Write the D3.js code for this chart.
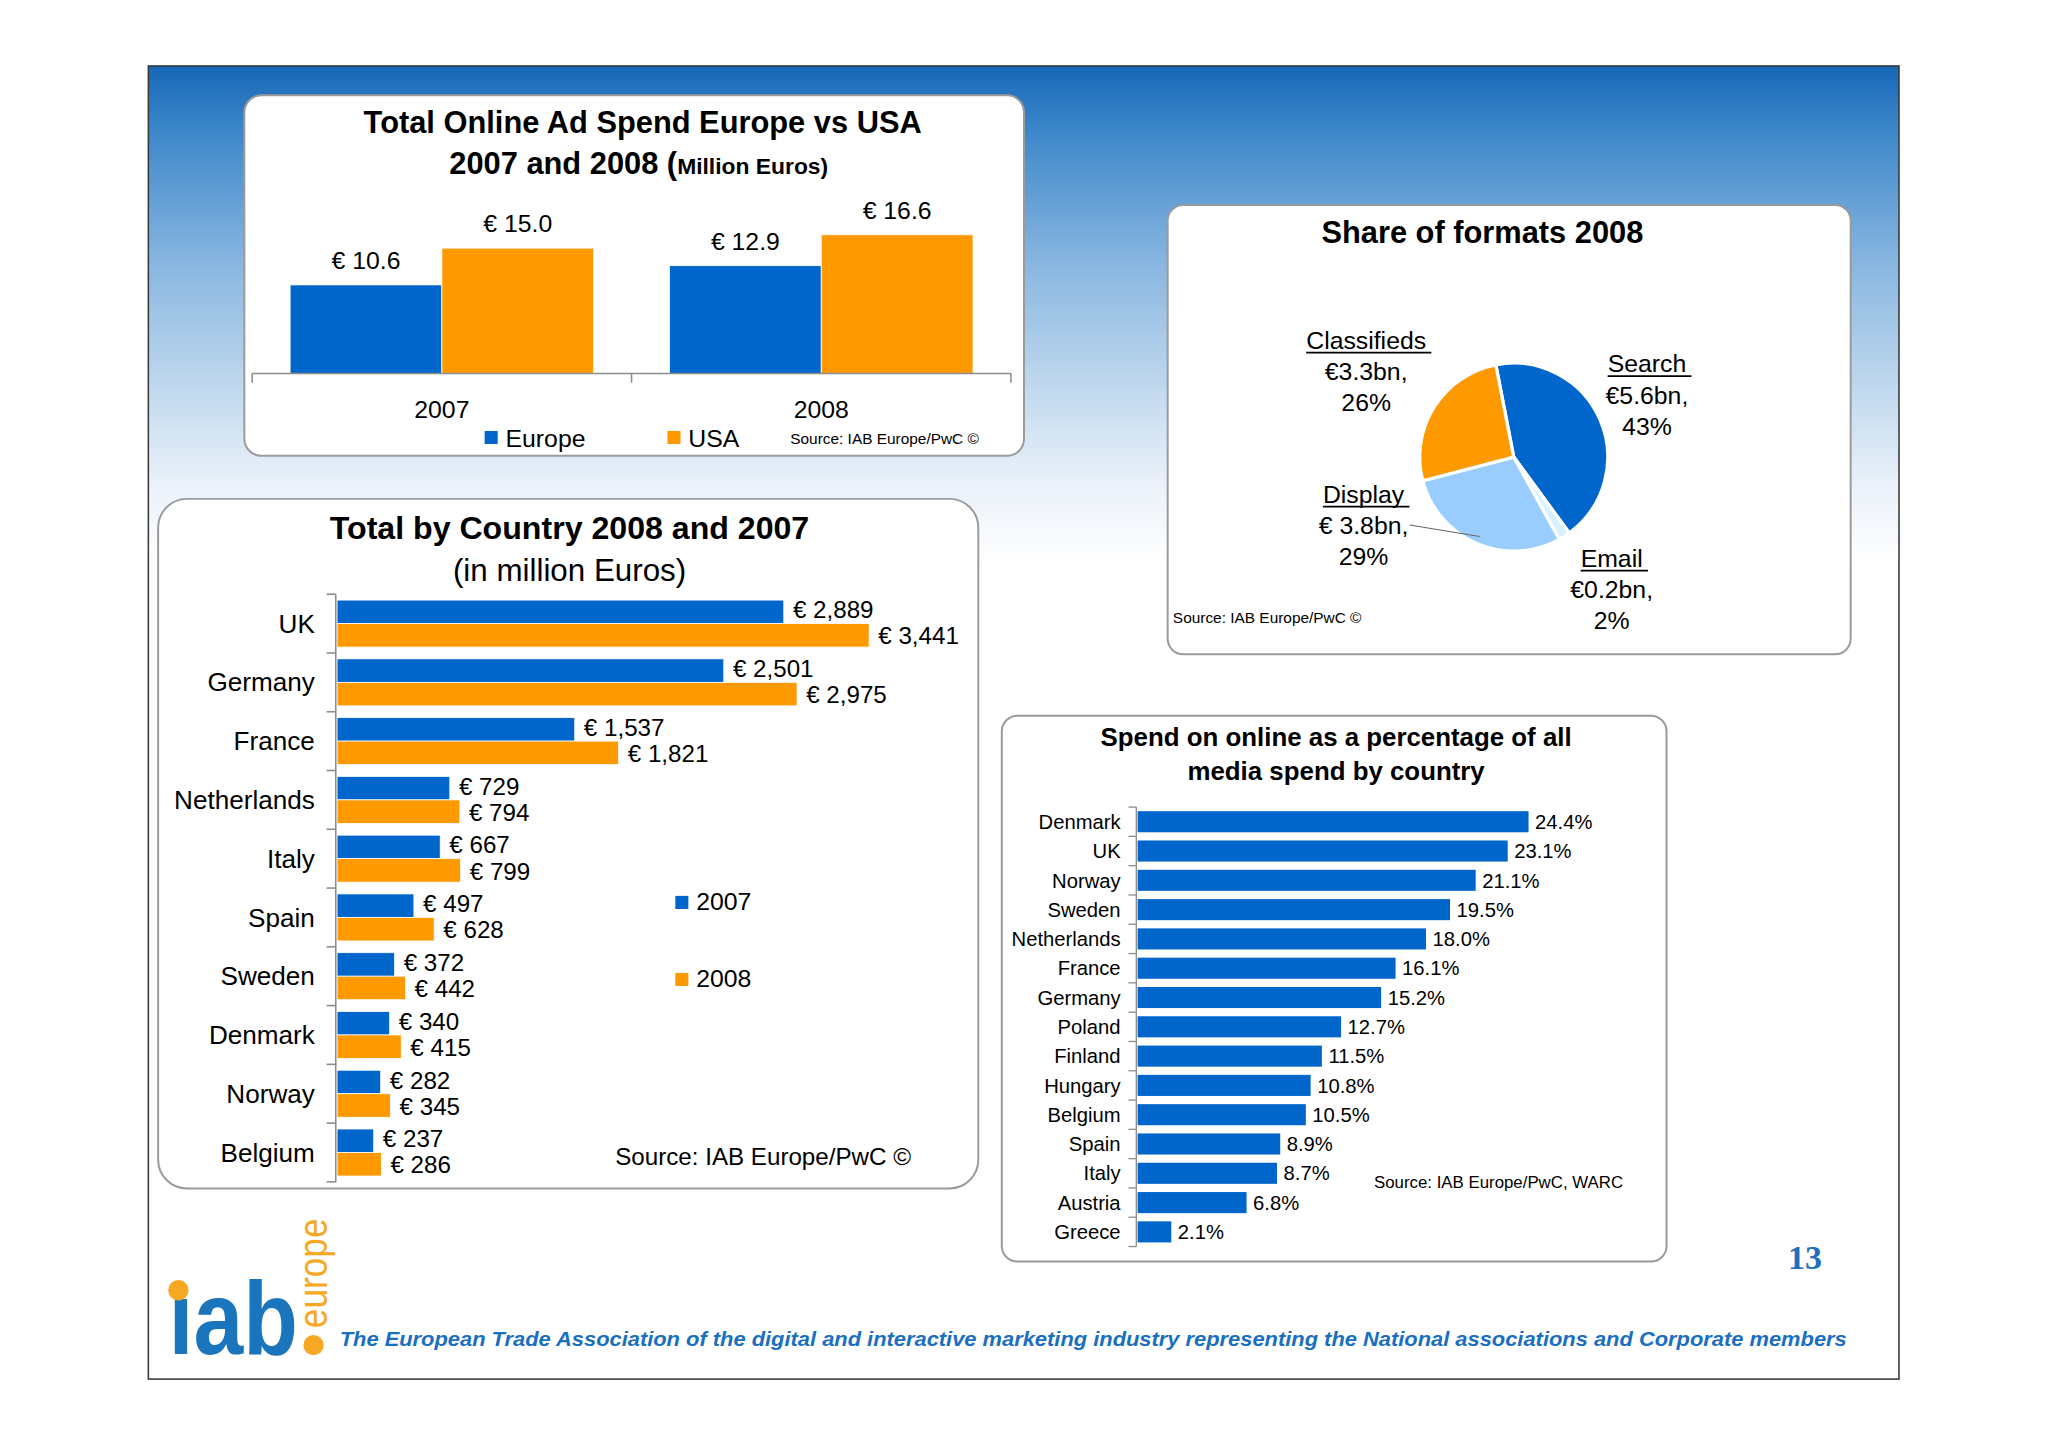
<!DOCTYPE html>
<html>
<head>
<meta charset="utf-8">
<script src="https://cdnjs.cloudflare.com/ajax/libs/d3/7.8.5/d3.min.js"></script>
<style>
  html, body { margin: 0; padding: 0; background: #fff; }
  svg { display: block; font-family: 'Liberation Sans', Arial, sans-serif; }
</style>
</head>
<body>
<svg id="slide" width="2048" height="1447" viewBox="0 0 1568 1108"></svg>
<script>
// chart 1: total online ad spend (billion euros)
var adYears = ['2007', '2008'];
var adSeries = ['Europe', 'USA'];
var adEurope = [10.6, 12.9];
var adUSA = [15.0, 16.6];

// chart 2: share of formats 2008
var formatNames = ['Search', 'Email', 'Display', 'Classifieds'];
var formatShare = [43, 2, 29, 26];
var formatValue = ['\u20ac5.6bn,', '\u20ac0.2bn,', '\u20ac 3.8bn,', '\u20ac3.3bn,'];

// chart 3: total by country (million euros)
var countries = ['UK', 'Germany', 'France', 'Netherlands', 'Italy', 'Spain', 'Sweden', 'Denmark', 'Norway', 'Belgium'];
var spend2007 = [2889, 2501, 1537, 729, 667, 497, 372, 340, 282, 237];
var spend2008 = [3441, 2975, 1821, 794, 799, 628, 442, 415, 345, 286];

// chart 4: online share of all media spend (%)
var shareCountries = ['Denmark', 'UK', 'Norway', 'Sweden', 'Netherlands', 'France', 'Germany', 'Poland',
  'Finland', 'Hungary', 'Belgium', 'Spain', 'Italy', 'Austria', 'Greece'];
var sharePct = [24.4, 23.1, 21.1, 19.5, 18.0, 16.1, 15.2, 12.7, 11.5, 10.8, 10.5, 8.9, 8.7, 6.8, 2.1];

var BLUE = '#0066cc';
var ORANGE = '#ff9900';
var LIGHT = '#99ccff';
var PALE = '#d6f1ff';
var AXIS = '#8c8c8c';

var svg = d3.select('#slide');

// background gradient
var defs = svg.append('defs');
var grad = defs.append('linearGradient')
  .attr('id', 'bg')
  .attr('x1', 0).attr('y1', 0).attr('x2', 0).attr('y2', 1);
[[0, '#1767b8'], [0.05, '#3d88ca'], [0.15, '#88b6e0'], [0.25, '#c3daef'], [0.32, '#ebf2fa'], [0.38, '#ffffff'], [1, '#ffffff']]
  .forEach(function(s) {
    grad.append('stop').attr('offset', s[0]).attr('stop-color', s[1]);
  });

svg.append('rect')
  .attr('x', 113.5).attr('y', 50.5)
  .attr('width', 1340.5).attr('height', 1005.5)
  .attr('fill', 'url(#bg)')
  .attr('stroke', '#3a3a3a')
  .attr('stroke-width', 1.2);

function panel(x, y, w, h, r) {
  svg.append('rect')
    .attr('x', x).attr('y', y)
    .attr('width', w).attr('height', h)
    .attr('rx', r).attr('ry', r)
    .attr('fill', '#fff')
    .attr('stroke', '#9a9a9a')
    .attr('stroke-width', 1.5);
}

function label(g, x, y, txt, size, opts) {
  opts = opts || {};
  return g.append('text')
    .attr('x', x).attr('y', y)
    .attr('font-size', size)
    .attr('font-weight', opts.bold ? 'bold' : null)
    .attr('text-anchor', opts.anchor || 'start')
    .attr('fill', opts.fill || '#000')
    .text(txt);
}

// ---------- chart 1 ----------
panel(187, 73, 597, 276, 13);
var g1 = svg.append('g');
label(g1, 492, 102, 'Total Online Ad Spend Europe vs USA', 23.6, {bold: true, anchor: 'middle'});
var t2 = label(g1, 489, 133, '2007 and 2008 (', 23.6, {bold: true, anchor: 'middle'});
t2.append('tspan').attr('font-size', 17.5).text('Million Euros)');

var x1 = d3.scaleBand().domain(adYears).range([193, 774]).paddingInner(0.2).paddingOuter(0.1);
var x1s = d3.scaleBand().domain(adSeries).range([0, x1.bandwidth()]);
var y1 = d3.scaleLinear().domain([0, 20]).range([286, 158]);

var adRows = adYears.map(function(yr, i) {
  return {year: yr, values: [{series: 'Europe', v: adEurope[i]}, {series: 'USA', v: adUSA[i]}]};
});

var groups1 = g1.selectAll('g.year').data(adRows).enter()
  .append('g').attr('class', 'year')
  .attr('transform', function(d) { return 'translate(' + x1(d.year) + ',0)'; });
groups1.selectAll('rect').data(function(d) { return d.values; }).enter()
  .append('rect')
  .attr('x', function(d) { return x1s(d.series); })
  .attr('width', x1s.bandwidth())
  .attr('y', function(d) { return y1(d.v); })
  .attr('height', function(d) { return y1(0) - y1(d.v); })
  .attr('fill', function(d) { return d.series === 'Europe' ? BLUE : ORANGE; })
  .attr('stroke', '#fff').attr('stroke-width', 0.6);
groups1.selectAll('text').data(function(d) { return d.values; }).enter()
  .append('text')
  .attr('x', function(d) { return x1s(d.series) + x1s.bandwidth() / 2; })
  .attr('y', function(d) { return y1(d.v) - 12; })
  .attr('text-anchor', 'middle')
  .attr('font-size', 19)
  .text(function(d) { return '\u20ac ' + d3.format('.1f')(d.v); });

// category axis with boundary ticks
var step1 = x1.step();
g1.append('line').attr('x1', 193).attr('x2', 774).attr('y1', y1(0)).attr('y2', y1(0))
  .attr('stroke', AXIS).attr('stroke-width', 1.2);
[0, 1, 2].forEach(function(i) {
  var xx = 193 + i * step1;
  g1.append('line').attr('x1', xx).attr('x2', xx).attr('y1', y1(0)).attr('y2', y1(0) + 7)
    .attr('stroke', AXIS).attr('stroke-width', 1.2);
});
adYears.forEach(function(yr) {
  label(g1, x1(yr) + x1.bandwidth() / 2, 320, yr, 19, {anchor: 'middle'});
});

// legend
adSeries.forEach(function(s, i) {
  var lx = 371 + i * 140;
  g1.append('rect').attr('x', lx).attr('y', 330).attr('width', 10).attr('height', 10)
    .attr('fill', i === 0 ? BLUE : ORANGE);
  label(g1, lx + 16, 342, s, 19);
});
label(g1, 605, 340, 'Source: IAB Europe/PwC \u00a9', 11.8);

// ---------- chart 2: pie ----------
panel(894, 157, 523, 344, 12);
var g2 = svg.append('g');
label(g2, 1135, 186, 'Share of formats 2008', 23.6, {bold: true, anchor: 'middle'});

var cx = 1159, cy = 350, R = 72;
var pieColors = [BLUE, PALE, LIGHT, ORANGE];
var start = -11 * Math.PI / 180;
var pie = d3.pie().sort(null).startAngle(start).endAngle(start + 2 * Math.PI);
var arcs = pie(formatShare);
var arc = d3.arc().innerRadius(0).outerRadius(R);
var pg = g2.append('g').attr('transform', 'translate(' + cx + ',' + cy + ')');
pg.selectAll('path').data(arcs).enter()
  .append('path')
  .attr('d', arc)
  .attr('fill', function(d, i) { return pieColors[i]; })
  .attr('stroke', '#fff')
  .attr('stroke-width', 2.5);

// label offsets from pie centre (middle line of each label)
var pieLabelAt = [[102, -48], [75, 101], [-115, 52], [-113, -66]];
arcs.forEach(function(a, i) {
  var lx = pieLabelAt[i][0], ly = pieLabelAt[i][1];
  var nm = label(pg, lx, ly - 17, formatNames[i], 19, {anchor: 'middle'});
  var w = nm.node().getComputedTextLength();
  pg.append('line')
    .attr('x1', lx - w / 2).attr('x2', lx + w / 2 + 4)
    .attr('y1', ly - 14).attr('y2', ly - 14)
    .attr('stroke', '#000').attr('stroke-width', 1.3);
  var val = label(pg, lx, ly + 7, formatValue[i], 19, {anchor: 'middle'});
  label(pg, lx, ly + 31, formatShare[i] + '%', 19, {anchor: 'middle'});
  if (formatNames[i] === 'Display') {
    var vw = val.node().getComputedTextLength();
    var c = d3.arc().innerRadius(R * 0.92).outerRadius(R * 0.92).centroid(a);
    pg.append('line')
      .attr('x1', lx + vw / 2 + 1).attr('y1', ly)
      .attr('x2', c[0]).attr('y2', c[1])
      .attr('stroke', '#666').attr('stroke-width', 0.8);
  }
});
label(g2, 898, 477, 'Source: IAB Europe/PwC \u00a9', 11.8);

// ---------- chart 3: by country ----------
panel(121, 382, 628, 528, 22);
var g3 = svg.append('g');
label(g3, 436, 413, 'Total by Country 2008 and 2007', 24.6, {bold: true, anchor: 'middle'});
label(g3, 436, 445, '(in million Euros)', 24, {anchor: 'middle'});

var y3 = d3.scaleBand().domain(countries).range([455, 905]);
var y3s = d3.scaleBand().domain(['2007', '2008']).range([0, y3.bandwidth()]).paddingOuter(0.25);
var x3 = d3.scaleLinear().domain([0, 4000]).range([258, 731.6]);

var rows3 = countries.map(function(c, i) {
  return {country: c, values: [{yr: '2007', v: spend2007[i]}, {yr: '2008', v: spend2008[i]}]};
});
var groups3 = g3.selectAll('g.country').data(rows3).enter()
  .append('g').attr('class', 'country')
  .attr('transform', function(d) { return 'translate(0,' + y3(d.country) + ')'; });
groups3.selectAll('rect').data(function(d) { return d.values; }).enter()
  .append('rect')
  .attr('x', x3(0))
  .attr('y', function(d) { return y3s(d.yr); })
  .attr('height', y3s.bandwidth())
  .attr('width', function(d) { return x3(d.v) - x3(0); })
  .attr('fill', function(d) { return d.yr === '2007' ? BLUE : ORANGE; })
  .attr('stroke', '#fff').attr('stroke-width', 0.6);
groups3.selectAll('text.val').data(function(d) { return d.values; }).enter()
  .append('text').attr('class', 'val')
  .attr('x', function(d) { return x3(d.v) + 7; })
  .attr('y', function(d) { return y3s(d.yr) + y3s.bandwidth() / 2 + (d.yr === '2007' ? 5 : 7); })
  .attr('font-size', 18.5)
  .text(function(d) { return '\u20ac ' + d3.format(',')(d.v); });
groups3.append('text')
  .attr('x', 241)
  .attr('y', y3.bandwidth() / 2 + 7)
  .attr('text-anchor', 'end')
  .attr('font-size', 20)
  .text(function(d) { return d.country; });

g3.append('line').attr('x1', 257).attr('x2', 257).attr('y1', 455).attr('y2', 905)
  .attr('stroke', AXIS).attr('stroke-width', 1.2);
countries.concat([null]).forEach(function(c, i) {
  var yy = 455 + i * y3.step();
  g3.append('line').attr('x1', 250).attr('x2', 257).attr('y1', yy).attr('y2', yy)
    .attr('stroke', AXIS).attr('stroke-width', 1.2);
});

['2007', '2008'].forEach(function(s, i) {
  var ly = 686 + i * 59;
  g3.append('rect').attr('x', 517).attr('y', ly).attr('width', 10).attr('height', 10)
    .attr('fill', i === 0 ? BLUE : ORANGE);
  label(g3, 533, ly + 11, s, 19);
});
label(g3, 471, 892, 'Source: IAB Europe/PwC \u00a9', 18.5);

// ---------- chart 4: online share ----------
panel(767, 548, 509, 418, 12);
var g4 = svg.append('g');
label(g4, 1023, 571, 'Spend on online as a percentage of all', 19.8, {bold: true, anchor: 'middle'});
label(g4, 1023, 597, 'media spend by country', 19.8, {bold: true, anchor: 'middle'});

var y4 = d3.scaleBand().domain(shareCountries).range([618, 954.5]).paddingInner(0.28).paddingOuter(0.14);
var x4 = d3.scaleLinear().domain([0, 25]).range([871, 1177.7]);

var rows4 = shareCountries.map(function(c, i) { return {country: c, v: sharePct[i]}; });
g4.selectAll('rect.bar').data(rows4).enter()
  .append('rect').attr('class', 'bar')
  .attr('x', x4(0))
  .attr('y', function(d) { return y4(d.country); })
  .attr('height', y4.bandwidth())
  .attr('width', function(d) { return x4(d.v) - x4(0); })
  .attr('fill', BLUE);
g4.selectAll('text.val').data(rows4).enter()
  .append('text').attr('class', 'val')
  .attr('x', function(d) { return x4(d.v) + 5; })
  .attr('y', function(d) { return y4(d.country) + y4.bandwidth() / 2 + 5.5; })
  .attr('font-size', 15.5)
  .text(function(d) { return d3.format('.1f')(d.v) + '%'; });
g4.selectAll('text.cat').data(rows4).enter()
  .append('text').attr('class', 'cat')
  .attr('x', 858)
  .attr('y', function(d) { return y4(d.country) + y4.bandwidth() / 2 + 5.5; })
  .attr('text-anchor', 'end')
  .attr('font-size', 15.5)
  .text(function(d) { return d.country; });

g4.append('line').attr('x1', 870).attr('x2', 870).attr('y1', 618).attr('y2', 954.5)
  .attr('stroke', AXIS).attr('stroke-width', 1);
d3.range(shareCountries.length + 1).forEach(function(i) {
  var yy = 618 + i * y4.step();
  g4.append('line').attr('x1', 864).attr('x2', 870).attr('y1', yy).attr('y2', yy)
    .attr('stroke', AXIS).attr('stroke-width', 1);
});
label(g4, 1052, 910, 'Source: IAB Europe/PwC, WARC', 12.9);

// ---------- footer ----------
label(svg, 1382, 972, '13', 26, {bold: true, anchor: 'middle', fill: '#1f6fbf'})
  .attr('font-family', "'Liberation Serif', 'DejaVu Serif', serif");

var logo = svg.append('g');
logo.append('text')
  .attr('x', 129).attr('y', 1037)
  .attr('font-size', 80)
  .attr('font-weight', 'bold')
  .attr('fill', '#1a75bc')
  .attr('textLength', 99)
  .attr('lengthAdjust', 'spacingAndGlyphs')
  .text('\u0131ab');
logo.append('circle').attr('cx', 136.5).attr('cy', 988).attr('r', 7.8).attr('fill', '#f7a823');
logo.append('circle').attr('cx', 240).attr('cy', 1030).attr('r', 7.8).attr('fill', '#f7a823');
logo.append('text')
  .attr('transform', 'translate(250,1017) rotate(-90)')
  .attr('font-size', 31)
  .attr('fill', '#f7a823')
  .attr('textLength', 84)
  .attr('lengthAdjust', 'spacingAndGlyphs')
  .text('europe');

svg.append('text')
  .attr('x', 260).attr('y', 1031)
  .attr('font-size', 16)
  .attr('font-weight', 'bold')
  .attr('font-style', 'italic')
  .attr('fill', '#1a6fc0')
  .attr('textLength', 1154)
  .attr('lengthAdjust', 'spacingAndGlyphs')
  .text('The European Trade Association of the digital and interactive marketing industry representing the National associations and Corporate members');
</script>
</body>
</html>
